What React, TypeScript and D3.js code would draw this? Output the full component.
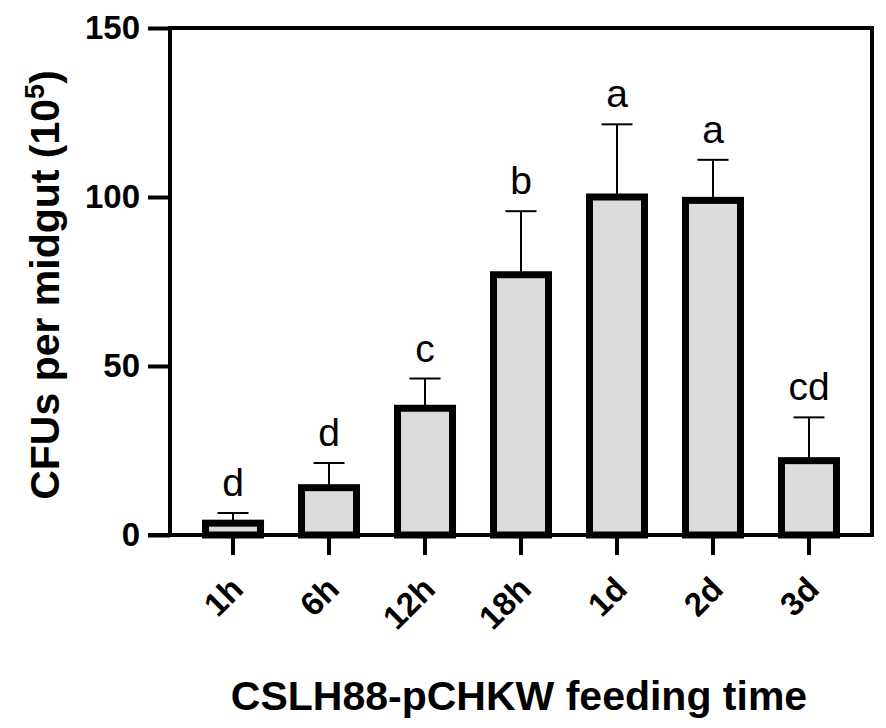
import React, { useEffect, useRef } from 'react';
import * as d3 from 'd3';

const categories = ['1h', '6h', '12h', '18h', '1d', '2d', '3d'];
const means = [3.5, 14, 37.5, 77, 100, 99, 22];
const errTops = [6.5, 21.3, 46.3, 95.8, 121.5, 111, 34.8];
const letters = ['d', 'd', 'c', 'b', 'a', 'a', 'cd'];
const yTicks = [0, 50, 100, 150];

const W = 886;
const H = 728;
const FONT = '"Liberation Sans", Arial, sans-serif';

const App: React.FC = () => {
  const svgRef = useRef<SVGSVGElement>(null);

  useEffect(() => {
    if (!svgRef.current) return;
    const svg = d3.select(svgRef.current);
    svg.selectAll('*').remove();

    const left = 170;
    const right = 872;
    const top = 28;
    const bottom = 535;

    const x = d3.scaleBand<string>()
      .domain(categories)
      .range([left, right])
      .paddingInner(0.427)
      .paddingOuter(0.37);

    const y = d3.scaleLinear()
      .domain([0, 150])
      .range([bottom, top]);

    const rows = categories.map((c, i) => ({ c, m: means[i], e: errTops[i], l: letters[i] }));
    const cx = (c: string) => (x(c) as number) + x.bandwidth() / 2;

    // error bars (upper only)
    const err = svg.append('g').attr('stroke', '#000').attr('stroke-width', 2);
    err.selectAll('line.v')
      .data(rows)
      .join('line')
      .attr('class', 'v')
      .attr('x1', d => cx(d.c))
      .attr('x2', d => cx(d.c))
      .attr('y1', d => y(d.m))
      .attr('y2', d => y(d.e));
    err.selectAll('line.cap')
      .data(rows)
      .join('line')
      .attr('class', 'cap')
      .attr('x1', d => cx(d.c) - 15.5)
      .attr('x2', d => cx(d.c) + 15.5)
      .attr('y1', d => y(d.e))
      .attr('y2', d => y(d.e));

    // bars
    svg.append('g')
      .selectAll('rect')
      .data(rows)
      .join('rect')
      .attr('x', d => x(d.c) as number)
      .attr('width', x.bandwidth())
      .attr('y', d => y(d.m))
      .attr('height', d => y(0) - y(d.m))
      .attr('fill', '#dcdcdc')
      .attr('stroke', '#000')
      .attr('stroke-width', 7);

    // significance letters
    svg.append('g')
      .selectAll('text')
      .data(rows)
      .join('text')
      .attr('x', d => cx(d.c))
      .attr('y', d => y(d.e) - 17)
      .attr('text-anchor', 'middle')
      .attr('font-family', FONT)
      .attr('font-size', 39)
      .attr('fill', '#000')
      .text(d => d.l);

    // frame
    const frame = svg.append('g').attr('stroke', '#000').attr('stroke-width', 4).attr('fill', 'none');
    frame.append('path')
      .attr('d', `M${left},${bottom}V${top}H${right}V${bottom}`)
      .attr('stroke-linecap', 'square');

    // y axis
    const yAxis = d3.axisLeft(y).tickValues(yTicks).tickSize(22).tickPadding(8);
    const gy = svg.append('g').attr('transform', `translate(${left},0)`).call(yAxis);
    gy.select('.domain').remove();
    gy.selectAll('.tick line').attr('stroke', '#000').attr('stroke-width', 4);
    gy.selectAll('.tick text')
      .attr('font-family', FONT)
      .attr('font-weight', 'bold')
      .attr('font-size', 33)
      .attr('fill', '#000');

    // x axis
    const xAxis = d3.axisBottom(x).tickSize(20).tickPadding(0);
    const gx = svg.append('g').attr('transform', `translate(0,${bottom})`).call(xAxis);
    gx.select('.domain')
      .attr('d', `M${left - 22},0H${right}`)
      .attr('stroke', '#000')
      .attr('stroke-width', 4);
    gx.selectAll('.tick line').attr('stroke', '#000').attr('stroke-width', 4);
    gx.selectAll('.tick text')
      .attr('font-family', FONT)
      .attr('font-weight', 'bold')
      .attr('font-size', 33)
      .attr('fill', '#000')
      .attr('text-anchor', 'end')
      .attr('dy', null)
      .attr('y', 0)
      .attr('transform', 'translate(12,56) rotate(-45)');

    // axis titles
    svg.append('text')
      .attr('x', (left + right) / 2 - 2)
      .attr('y', 710)
      .attr('text-anchor', 'middle')
      .attr('font-family', FONT)
      .attr('font-weight', 'bold')
      .attr('font-size', 41)
      .attr('fill', '#000')
      .text('CSLH88-pCHKW feeding time');

    const yt = svg.append('text')
      .attr('transform', 'translate(59,285) rotate(-90)')
      .attr('text-anchor', 'middle')
      .attr('font-family', FONT)
      .attr('font-weight', 'bold')
      .attr('font-size', 41)
      .attr('fill', '#000');
    yt.append('tspan').text('CFUs per midgut (10');
    yt.append('tspan').attr('font-size', 27).attr('dy', -15).text('5');
    yt.append('tspan').attr('dy', 15).text(')');
  }, []);

  return (
    <svg
      ref={svgRef}
      width={W}
      height={H}
      style={{ position: 'absolute', left: 0, top: 0, background: '#fff' }}
    />
  );
};

export default App;
